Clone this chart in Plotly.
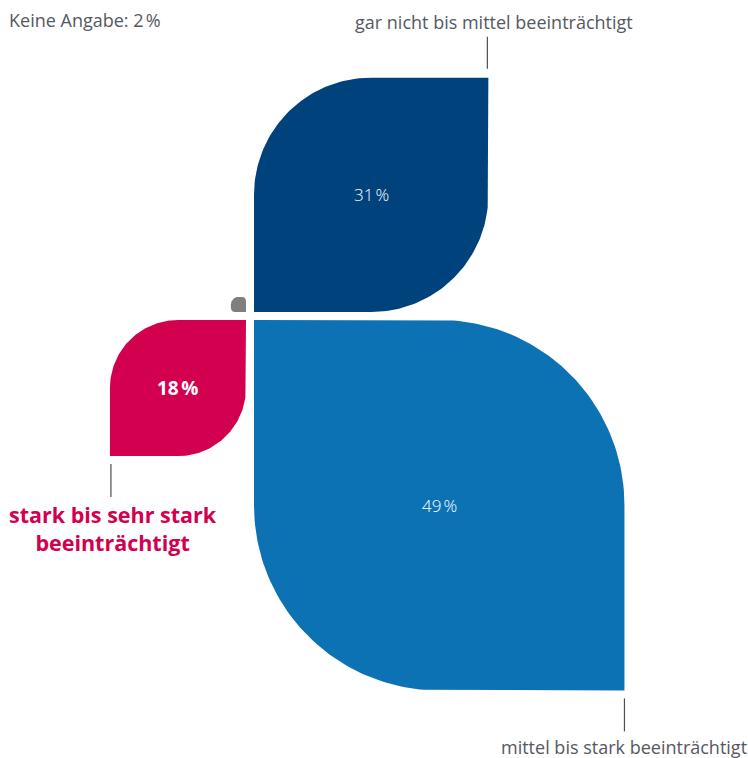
import numpy as np
import plotly.graph_objects as go

# Survey shares (percent)
categories = ["gar nicht bis mittel beeinträchtigt", "mittel bis stark beeinträchtigt",
              "stark bis sehr stark<br>beeinträchtigt", "Keine Angabe"]
values = [31, 49, 18, 2]
value_labels = ["31\u202f%", "49\u202f%", "18\u202f%", "2\u202f%"]
colors = ["#00427c", "#0c72b4", "#d2004f", "#7f7f7f"]

W, H = 748, 758
PX = 7.56          # pixels per percentage point of leaf side
CX, CY = 250, 316  # centre of the cross in pixels
GAP = 4 / PX       # half of the gap between leaves
FONT = "Open Sans"
TEXT_GREY = "#54595f"


def leaf_path(x0, x1, y0, y1, r, n=60):
    """Outline of a rectangle with per-corner radii r = (tl, tr, br, bl)."""
    tl, tr, br, bl = r
    xs, ys = [], []

    def corner(cx, cy, rad, a0, a1, px, py):
        if rad <= 0:
            xs.append(px)
            ys.append(py)
            return
        t = np.linspace(np.radians(a0), np.radians(a1), n)
        xs.extend(cx + rad * np.cos(t))
        ys.extend(cy + rad * np.sin(t))

    corner(x0 + tl, y1 - tl, tl, 180, 90, x0, y1)
    corner(x1 - tr, y1 - tr, tr, 90, 0, x1, y1)
    corner(x1 - br, y0 + br, br, 0, -90, x1, y0)
    corner(x0 + bl, y0 + bl, bl, -90, -180, x0, y0)
    xs.append(xs[0])
    ys.append(ys[0])
    return xs, ys


fig = go.Figure()

# quadrant of each leaf: (x direction, y direction)
quadrants = [(1, 1), (1, -1), (-1, -1), (-1, 1)]
leaves = []
for val, (dx, dy), col in zip(values, quadrants, colors):
    s = val
    xa, xb = sorted([dx * GAP, dx * (GAP + s)])
    ya, yb = sorted([dy * GAP, dy * (GAP + s)])
    h = s / 2
    if (dx, dy) == (1, 1):
        radii = (h, 0, h, 0)
    elif (dx, dy) == (1, -1):
        radii = (0, h, 0, h)
    elif (dx, dy) == (-1, -1):
        radii = (h, 0, h, 0)
    else:
        radii = (h, s / 4, 0, s / 4)
    xs, ys = leaf_path(xa, xb, ya, yb, radii)
    fig.add_trace(go.Scatter(x=xs, y=ys, mode="lines", fill="toself",
                             fillcolor=col, line=dict(width=0, color=col),
                             hoverinfo="skip", showlegend=False))
    leaves.append((xa, xb, ya, yb))

# value labels in the leaf centres
label_fonts = [dict(size=17, color="white", family=FONT, weight=300),
               dict(size=17, color="white", family=FONT, weight=300),
               dict(size=19, color="white", family=FONT, weight="bold")]
for i in range(3):
    xa, xb, ya, yb = leaves[i]
    fig.add_annotation(x=(xa + xb) / 2, y=(ya + yb) / 2, text=value_labels[i],
                       showarrow=False, font=label_fonts[i],
                       xanchor="center", yanchor="middle")

u = 1 / PX
line_style = dict(color="#4a4f55", width=1.2)
cat_font = dict(size=18, color=TEXT_GREY, family=FONT)

# top leaf: label above its right edge
xa, xb, ya, yb = leaves[0]
fig.add_shape(type="line", x0=xb - 1 * u, x1=xb - 1 * u, y0=yb + 9 * u, y1=yb + 41 * u,
              line=line_style)
fig.add_annotation(x=xb + 6 * u, y=yb + 56 * u, text=categories[0], showarrow=False,
                   font=cat_font, xanchor="center", yanchor="middle")

# large leaf: label below its right edge
xa, xb, ya, yb = leaves[1]
fig.add_shape(type="line", x0=xb, x1=xb, y0=ya - 8 * u, y1=ya - 41 * u, line=line_style)
fig.add_annotation(x=xb, y=ya - 57 * u, text=categories[1], showarrow=False,
                   font=cat_font, xanchor="center", yanchor="middle")

# left leaf: highlighted label below its left edge
xa, xb, ya, yb = leaves[2]
fig.add_shape(type="line", x0=xa + 1 * u, x1=xa + 1 * u, y0=ya - 8 * u, y1=ya - 41 * u,
              line=line_style)
fig.add_annotation(x=xa + 3 * u, y=ya - 72 * u, text=categories[2], showarrow=False,
                   font=dict(size=21.5, color=colors[2], family=FONT, weight="bold"),
                   xanchor="center", yanchor="middle", align="center")

# no-answer note in the top-left corner
fig.add_annotation(x=7 / W, y=1 - 20 / H, xref="paper", yref="paper",
                   text=f"{categories[3]}: {value_labels[3]}", showarrow=False,
                   font=cat_font, xanchor="left", yanchor="middle")

fig.update_xaxes(range=[-CX / PX, (W - CX) / PX], visible=False, fixedrange=True)
fig.update_yaxes(range=[-(H - CY) / PX, CY / PX], visible=False, fixedrange=True)
fig.update_layout(width=W, height=H, margin=dict(l=0, r=0, t=0, b=0),
                  paper_bgcolor="white", plot_bgcolor="white", showlegend=False)

fig.write_html("out.html")
